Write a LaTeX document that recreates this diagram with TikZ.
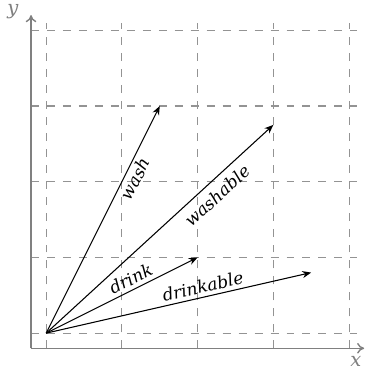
\documentclass[tikz,border=0pt]{standalone}
\usepackage{fontspec}
\setmainfont{DejaVu Serif}
\usepackage{tikz}
\usetikzlibrary{arrows.meta}

\begin{document}
\begin{tikzpicture}[x=1.5cm,y=1.5cm,
  gridln/.style={gray!85,line width=0.6pt,dash pattern=on 4.5pt off 4.5pt},
  ax/.style={gray,line width=0.8pt,-{To[length=4pt,width=6pt]}},
  vec/.style={black,line width=0.6pt,-{Stealth[length=5pt,width=4pt]}},
  lbl/.style={font=\fontsize{9.6}{11}\selectfont\itshape,sloped,inner sep=2pt},
  axlbl/.style={font=\fontsize{11}{13}\selectfont\itshape,text=gray}]
\useasboundingbox (-0.61,-0.5) rectangle (4.29,4.4);
% grid and axes
\draw[gridln,step=1.5cm] (-0.2,-0.2) grid (4.1,4.1);
\coordinate (c) at (-0.2,-0.2);
\coordinate (xe) at (4.2,-0.2);
\coordinate (ye) at (-0.2,4.2);
\draw[ax] (c) -- (xe);
\draw[ax] (c) -- (ye);
\node[axlbl] (xl) at (4.09,-0.38) {x};
\node[axlbl] (yl) at (-0.44,4.25) {y};
% word vectors
\coordinate (o) at (0,0);
\foreach \nm/\px/\py in {wash/1.5/3,washable/3/2.75,drink/2/1,drinkable/3.5/0.8}{
  \coordinate (\nm) at (\px,\py);}
\draw[vec] (o) -- (wash) node[lbl,pos=0.7,below] {wash};
\draw[vec] (o) -- (washable) node[lbl,pos=0.71,below=2pt] {washable};
\draw[vec] (o) -- (drink) node[lbl,pos=0.59,above] {drink};
\draw[vec] (o) -- (drinkable) node[lbl,pos=0.6,above] {drinkable};
\end{tikzpicture}
\end{document}
